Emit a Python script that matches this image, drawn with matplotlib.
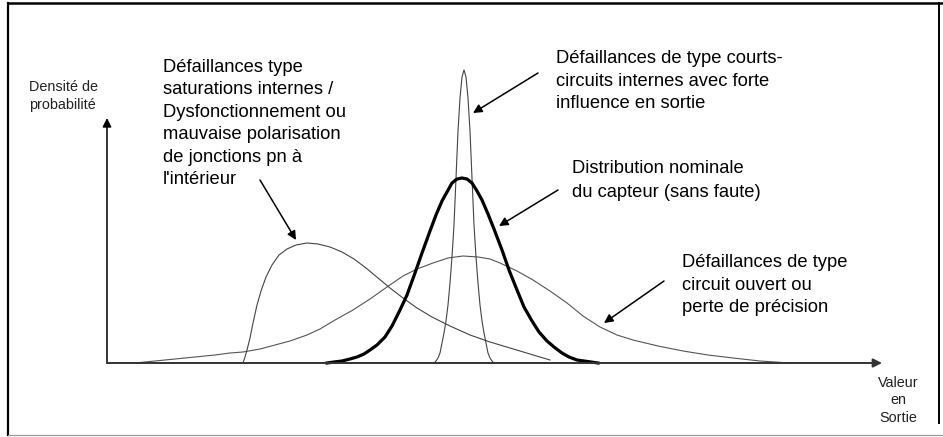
import matplotlib
matplotlib.use("Agg")
import matplotlib.pyplot as plt

plt.rcParams['font.family'] = ['Liberation Sans', 'DejaVu Sans']

# curves: x = output value, h = probability density (arbitrary units)
spike_x = [327, 329, 331, 333, 335, 337, 339, 341, 343, 345, 347, 349, 351, 353, 355, 357,
           359, 361, 363, 365, 367, 369, 371, 373, 375, 377, 379, 381, 383, 385, 387]
spike_h = [0, 2, 5, 10, 20, 30, 42, 58, 80, 106, 138, 185, 232, 265, 286, 293,
           286, 265, 232, 185, 138, 106, 80, 58, 42, 30, 20, 10, 5, 2, 0]

nominal_x = [220, 227, 235, 243, 250, 257, 263, 270, 278, 285, 293, 300, 308, 315, 323, 329, 335, 340,
             345, 350, 355, 360, 365, 370, 375, 381, 387, 395, 402, 410, 417, 425, 432, 440, 447, 455,
             462, 470, 477, 491]
nominal_h = [0, 1, 2, 4, 6, 9, 13, 18, 26, 37, 53, 68, 90, 110, 132, 148, 162, 171,
             180, 184, 185, 184, 180, 172, 163, 149, 134, 113, 93, 73, 56, 42, 31, 22, 16, 10,
             6, 3, 2, 0]

open_x = [28, 48, 68, 88, 108, 123, 136, 153, 168, 183, 200, 213, 228, 246, 263, 280, 296, 310, 326,
          341, 356, 371, 383, 393, 410, 426, 443, 460, 476, 493, 510, 526, 551, 576, 601, 626, 653, 683]
open_h = [0, 2, 4, 6, 8, 10, 11, 14, 18, 22, 28, 34, 43, 53, 64, 76, 87, 94, 100,
          105, 107, 106, 104, 100, 92, 83, 72, 60, 47, 36, 28, 23, 17, 12, 8, 5, 2, 0]

sat_x = [136, 138, 140, 143, 146, 150, 154, 159, 165, 172, 180, 189, 200, 211, 223, 235, 247, 259,
         271, 283, 296, 310, 325, 343, 363, 383, 403, 423, 443]
sat_h = [0, 6, 13, 25, 40, 58, 72, 86, 98, 108, 114, 118, 120, 119, 116, 111, 104, 95,
         85, 75, 65, 55, 46, 37, 28, 21, 15, 9, 3]

left_lines = ["Défaillances type", "saturations internes /", "Dysfonctionnement ou",
              "mauvaise polarisation", "de jonctions pn à", "l'intérieur"]
short_lines = ["Défaillances de type courts-", "circuits internes avec forte", "influence en sortie"]
nominal_lines = ["Distribution nominale", "du capteur (sans faute)"]
open_lines = ["Défaillances de type", "circuit ouvert ou", "perte de précision"]
ylabel_lines = ["Densité de", "probabilité"]
xlabel_lines = ["Valeur", "en", "Sortie"]

fig = plt.figure(figsize=(9.43, 4.37), dpi=100)
ax = fig.add_axes([0, 0, 1, 1])
ax.set_xlim(-107, 836)
ax.set_ylim(-74, 363)
ax.axis('off')

# frame around the drawing
ax.plot([-99, -99], [-72, 360], color='black', lw=1.6, clip_on=False)
ax.plot([-99, 836], [360, 360], color='black', lw=1.8, clip_on=False)
ax.plot([832, 832], [360, -60], color='black', lw=1.4, clip_on=False)
ax.plot([-99, 836], [-72, -72], color='#999999', lw=0.9, clip_on=False)

# axes with arrows
arrow = dict(arrowstyle='-|>', color='black', lw=1.1, mutation_scale=13, shrinkA=0, shrinkB=0)
ax.annotate('', xy=(0, 245), xytext=(0, 0), arrowprops=arrow)
ax.annotate('', xy=(775, 0), xytext=(0, 0),
            arrowprops=dict(arrow, color='#333333', lw=1.4))

# distributions
ax.plot(open_x, open_h, color='#555555', lw=0.8, solid_joinstyle='round')
ax.plot(sat_x, sat_h, color='#444444', lw=0.8, solid_joinstyle='round')
ax.plot(spike_x, spike_h, color='#444444', lw=0.8, solid_joinstyle='round')
ax.plot(nominal_x, nominal_h, color='black', lw=2.3, solid_joinstyle='round')

# annotation arrows
ax.annotate('', xy=(189, 123), xytext=(153, 183), arrowprops=arrow)
ax.annotate('', xy=(366, 250), xytext=(431, 290), arrowprops=arrow)
ax.annotate('', xy=(392, 137), xytext=(451, 173), arrowprops=arrow)
ax.annotate('', xy=(497, 40), xytext=(557, 82), arrowprops=arrow)

# texts
def block(lines, x, y0, step, size, color='black', ha='left'):
    for i, s in enumerate(lines):
        ax.text(x, y0 - i * step, s, fontsize=size, color=color, ha=ha, va='baseline')

block(left_lines, 56, 291, 22.4, 13.2)
block(short_lines, 449, 300, 22.5, 13.2)
block(nominal_lines, 465, 190, 24, 13.2)
block(open_lines, 575, 96, 22.5, 13.2)
block(ylabel_lines, -78, 272, 18, 10.4, color='#222222')
block(xlabel_lines, 791, -24, 17.5, 10.4, color='#222222', ha='center')

fig.savefig('out.png', dpi=100)
